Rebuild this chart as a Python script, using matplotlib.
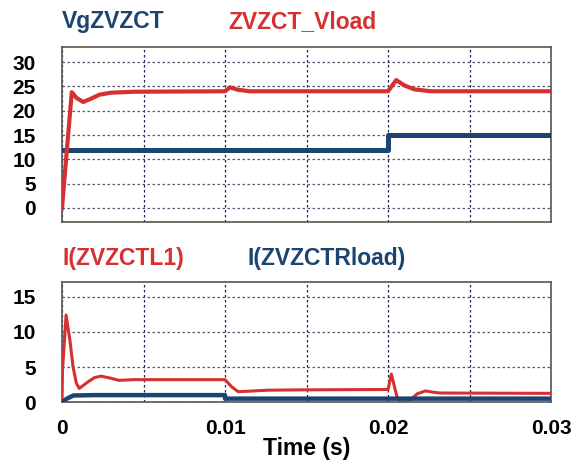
import matplotlib.pyplot as plt

# values (time in s)
t_vg = [0, 0.02, 0.02, 0.03]
vg = [12, 12, 15, 15]

t_vload = [0, 0.0003, 0.0006, 0.0009, 0.0013, 0.0018, 0.0023, 0.003, 0.0044,
           0.01, 0.0103, 0.0108, 0.0115, 0.02, 0.0205, 0.021, 0.0216, 0.0226, 0.03]
vload = [0, 12, 23.8, 22.6, 21.8, 22.5, 23.3, 23.7, 23.9,
         24.0, 24.8, 24.3, 24.0, 24.0, 26.3, 25.2, 24.4, 24.0, 24.0]

t_il1 = [0, 0.00003, 0.00025, 0.00048, 0.00068, 0.00088, 0.00106, 0.0016,
         0.002, 0.0024, 0.003, 0.0035, 0.0044, 0.01, 0.0104, 0.0108, 0.0114,
         0.0126, 0.0147, 0.02, 0.0202, 0.02055, 0.0207, 0.021, 0.0214, 0.0218,
         0.0223, 0.0228, 0.0232, 0.03]
il1 = [0, 4.5, 12.4, 8.9, 5.0, 2.7, 1.95, 2.9,
       3.5, 3.7, 3.4, 3.1, 3.2, 3.2, 2.2, 1.5, 1.55,
       1.7, 1.75, 1.8, 4.0, 0.75, 0.05, 0.0, 0.4, 1.2,
       1.6, 1.4, 1.3, 1.25]

t_iload = [0, 0.0003, 0.0007, 0.002, 0.01, 0.01, 0.03]
iload = [0, 0.5, 0.95, 1.0, 1.0, 0.5, 0.5]

RED = '#d63031'
BLUE = '#1b4470'

plt.rcParams['font.family'] = ['Liberation Sans', 'DejaVu Sans']
plt.rcParams['font.weight'] = 'bold'

fig = plt.figure(figsize=(5.72, 4.61), dpi=100)
ax1 = fig.add_axes([0.1084, 0.5184, 0.855, 0.3796])
ax2 = fig.add_axes([0.1084, 0.1269, 0.855, 0.2614])


def style(ax, yticks):
    ax.set_xlim(0, 0.03)
    ax.set_xticks([0, 0.01, 0.02, 0.03])
    ax.set_xticks([0.005, 0.015, 0.025], minor=True)
    ax.set_yticks(yticks)
    ax.tick_params(axis='both', which='both', length=0, labelsize=15)
    ax.tick_params(axis='y', pad=19)
    ax.tick_params(axis='x', pad=12)
    ax.grid(True, axis='y', color='#555577', linestyle=(0, (2, 2)), linewidth=0.9)
    ax.grid(True, axis='x', which='both', color='#222255', linestyle=(0, (2, 2)), linewidth=0.9)
    for s in ax.spines.values():
        s.set_color('#555555')
        s.set_linewidth(1.2)


ax1.plot(t_vg, vg, color=BLUE, lw=3.6, zorder=3)
ax1.plot(t_vload, vload, color=RED, lw=3.0, zorder=4)
ax1.set_ylim(-2.9, 33.1)
style(ax1, [0, 5, 10, 15, 20, 25, 30])
ax1.set_xticklabels([])

ax2.plot(t_il1, il1, color=RED, lw=2.2, zorder=3)
ax2.plot(t_iload, iload, color=BLUE, lw=3.2, zorder=4)
ax2.set_ylim(-0.05, 17.1)
style(ax2, [0, 5, 10, 15])
ax2.set_xticklabels(['0', '0.01', '0.02', '0.03'])

fig.text(62 / 572, 1 - 28 / 461, 'VgZVZCT', color=BLUE, fontsize=16.5, va='baseline')
fig.text(228 / 572, 1 - 28 / 461, 'ZVZCT_Vload', color=RED, fontsize=16.5, va='baseline')
fig.text(63 / 572, 1 - 265 / 461, 'I(ZVZCTL1)', color=RED, fontsize=16.5, va='baseline')
fig.text(248 / 572, 1 - 265 / 461, 'I(ZVZCTRload)', color=BLUE, fontsize=16.5, va='baseline')
fig.text(306.5 / 572, 1 - 455 / 461, 'Time (s)', fontsize=16.5, ha='center', va='baseline')

fig.savefig('out.png', dpi=100)
